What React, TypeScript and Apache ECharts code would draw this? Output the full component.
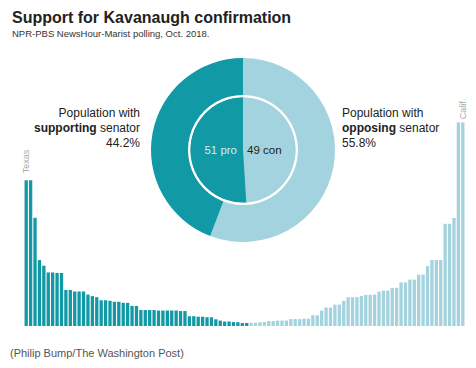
import React, { useEffect, useRef } from "react";
import * as echarts from "echarts";

const FONT = "'Liberation Sans', Arial, sans-serif";
const DARK = "#1199a5";
const LIGHT = "#a3d3de";

// Senators voting for confirmation, with the population of their state (millions)
const proStates = ["Texas","Texas","Florida","Pennsylvania","Ohio","Georgia","Georgia","North Carolina","North Carolina","Arizona","Arizona","Tennessee","Tennessee","Indiana","Missouri","Wisconsin","Colorado","South Carolina","South Carolina","Alabama","Louisiana","Louisiana","Kentucky","Kentucky","Oklahoma","Oklahoma","Iowa","Iowa","Utah","Utah","Nevada","Arkansas","Arkansas","Mississippi","Mississippi","Kansas","Kansas","Nebraska","Nebraska","West Virginia","West Virginia","Idaho","Idaho","Maine","Montana","South Dakota","South Dakota","North Dakota","Alaska","Wyoming","Wyoming"];
const proPop = [28.3,28.3,21.0,12.8,11.7,10.4,10.4,10.3,10.3,7.0,7.0,6.7,6.7,6.7,6.1,5.8,5.6,5.0,5.0,4.9,4.7,4.7,4.5,4.5,3.9,3.9,3.1,3.1,3.1,3.1,3.0,3.0,3.0,3.0,3.0,2.9,2.9,1.9,1.9,1.8,1.8,1.7,1.7,1.3,1.05,0.87,0.87,0.76,0.74,0.58,0.58];

// Senators opposing confirmation
const conStates = ["Vermont","Vermont","Alaska","North Dakota","Delaware","Delaware","Montana","Rhode Island","Rhode Island","Maine","New Hampshire","New Hampshire","Hawaii","Hawaii","New Mexico","New Mexico","Nevada","Connecticut","Connecticut","Oregon","Oregon","Alabama","Minnesota","Minnesota","Colorado","Wisconsin","Maryland","Maryland","Missouri","Indiana","Massachusetts","Massachusetts","Washington","Washington","Virginia","Virginia","New Jersey","New Jersey","Michigan","Michigan","Ohio","Illinois","Illinois","Pennsylvania","New York","New York","Florida","California","California"];
const conPop = [0.62,0.62,0.74,0.76,0.96,0.96,1.05,1.06,1.06,1.34,1.34,1.34,1.43,1.43,2.09,2.09,3.0,3.59,3.59,4.14,4.14,4.87,5.58,5.58,5.61,5.8,6.05,6.05,6.11,6.67,6.86,6.86,7.41,7.41,8.47,8.47,9.01,9.01,9.96,9.96,11.66,12.8,12.8,12.81,19.85,19.85,20.98,39.54,39.54];

const populationShares = [{ name: "opposing", value: 55.8 }, { name: "supporting", value: 44.2 }];
const senatorCounts = [{ name: "con", value: 49 }, { name: "pro", value: 51 }];

const App = () => {
  const ref = useRef<HTMLDivElement>(null);
  useEffect(() => {
    document.body.style.margin = "0";
    const chart = echarts.init(ref.current!, null, { renderer: "svg" });
    const categories = proStates.concat(conStates).map((s, i) => `${s} ${i + 1}`);
    const barData = proPop.map((v, i) => {
      const item: any = { value: v, itemStyle: { color: DARK } };
      if (i === 0) {
        item.label = {
          show: true, position: "top", rotate: 90, align: "left", verticalAlign: "middle",
          distance: 5, offset: [2, 0], formatter: "Texas", color: "#aaa", fontSize: 9, fontFamily: FONT,
        };
      }
      return item;
    }).concat(conPop.map((v, i) => {
      const item: any = { value: v, itemStyle: { color: LIGHT } };
      if (i === conPop.length - 1) {
        item.label = {
          show: true, position: "top", rotate: 90, align: "left", verticalAlign: "middle",
          distance: 5, offset: [-2, 0], formatter: "Calif.", color: "#aaa", fontSize: 9, fontFamily: FONT,
        };
      }
      return item;
    }));

    const con = senatorCounts[0];
    const pro = senatorCounts[1];

    chart.setOption({
      animation: false,
      title: [
        { text: "Support for Kavanaugh confirmation", left: 7, top: 4,
          textStyle: { fontFamily: FONT, fontSize: 16, fontWeight: "bold", color: "#222" } },
        { text: "NPR-PBS NewsHour-Marist polling, Oct. 2018.", left: 7, top: 23,
          textStyle: { fontFamily: FONT, fontSize: 9.5, fontWeight: "normal", color: "#333" } },
        { text: "(Philip Bump/The Washington Post)", left: 5, top: 342,
          textStyle: { fontFamily: FONT, fontSize: 11, fontWeight: "normal", color: "#555" } },
      ],
      grid: { left: 24, right: 11, top: 120, bottom: 42 },
      xAxis: { type: "category", data: categories, show: false },
      yAxis: { type: "value", min: 0, max: 40, show: false },
      series: [
        {
          type: "bar", data: barData, barCategoryGap: "25%", silent: true,
        },
        {
          type: "pie", center: [243, 150], radius: [0, 92], startAngle: 90, clockwise: true,
          silent: true, label: { show: false }, labelLine: { show: false },
          data: populationShares, color: [LIGHT, DARK],
        },
        {
          type: "pie", center: [243, 150], radius: [52.5, 55], startAngle: 90, silent: true,
          label: { show: false }, labelLine: { show: false },
          data: [{ value: 1, itemStyle: { color: "#fff" } }], z: 3,
        },
        {
          type: "pie", center: [243, 150], radius: [0, 52.5], startAngle: 90, clockwise: true,
          silent: true, z: 4, color: [LIGHT, DARK],
          label: { show: false }, labelLine: { show: false },
          data: senatorCounts,
        },
      ],
      graphic: [
        {
          type: "text", x: 237, y: 150, z: 100,
          style: {
            text: `${pro.value} ${pro.name}`, align: "right", verticalAlign: "middle",
            fontFamily: FONT, fontSize: 11.5, fill: "#d2eef1",
          },
        },
        {
          type: "text", x: 247, y: 150, z: 100,
          style: {
            text: `${con.value} ${con.name}`, align: "left", verticalAlign: "middle",
            fontFamily: FONT, fontSize: 11.5, fill: "#222",
          },
        },
        {
          type: "text", x: 140, y: 105,
          style: {
            text: "Population with\n{b|supporting} senator\n44.2%",
            align: "right", fontFamily: FONT, fontSize: 12, lineHeight: 15, fill: "#222",
            rich: { b: { fontWeight: "bold", fontFamily: FONT, fontSize: 12, lineHeight: 15 } },
          },
        },
        {
          type: "text", x: 342, y: 105,
          style: {
            text: "Population with\n{b|opposing} senator\n55.8%",
            align: "left", fontFamily: FONT, fontSize: 12, lineHeight: 15, fill: "#222",
            rich: { b: { fontWeight: "bold", fontFamily: FONT, fontSize: 12, lineHeight: 15 } },
          },
        },
      ],
    });
    return () => chart.dispose();
  }, []);
  return <div ref={ref} style={{ width: 476, height: 368 }} />;
};

export default App;
